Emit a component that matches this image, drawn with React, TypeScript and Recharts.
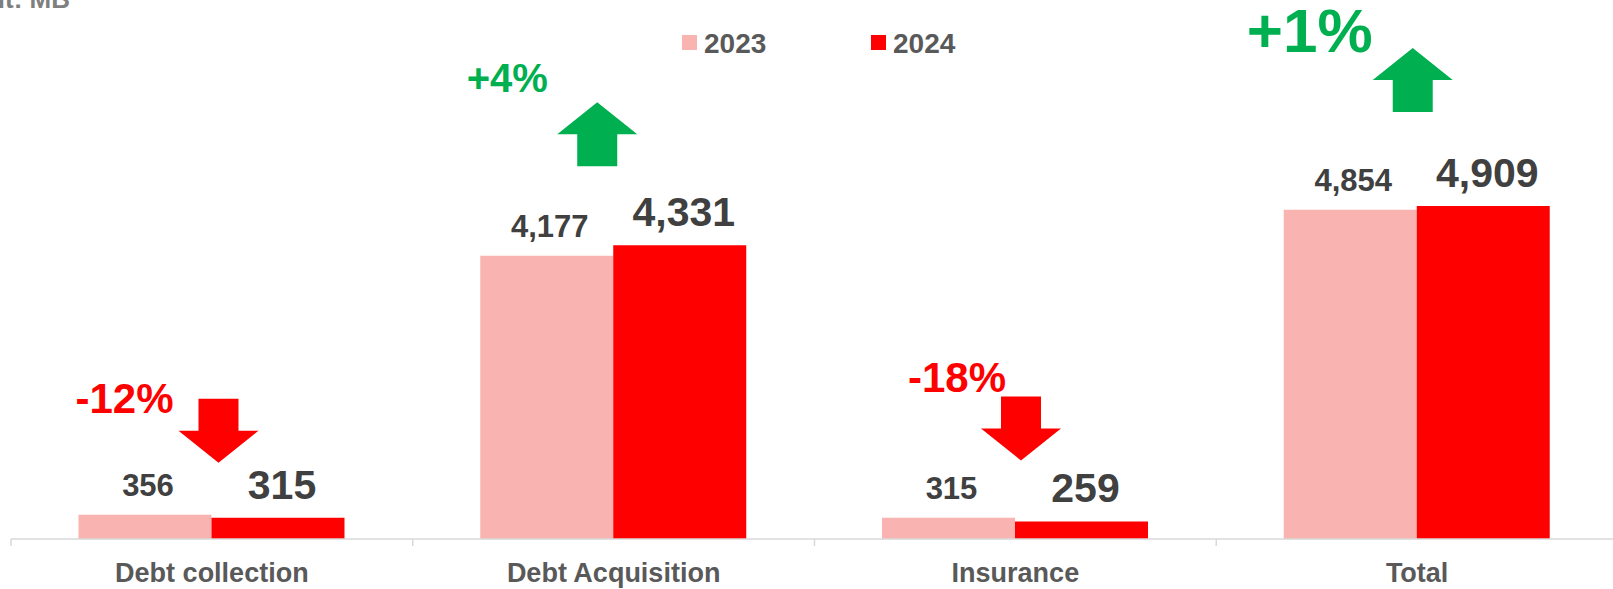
import React from 'react';
import { BarChart, Bar, XAxis, YAxis, LabelList, Legend } from 'recharts';

const categories = ['Debt collection', 'Debt Acquisition', 'Insurance', 'Total'];
const values2023 = [356, 4177, 315, 4854];
const values2024 = [315, 4331, 259, 4909];
const changeLabels = ['-12%', '+4%', '-18%', '+1%'];
const seriesNames = ['2023', '2024'];
const unitLabel = 'Unit: MB';

const data = categories.map((name, i) => ({
  name,
  y2023: values2023[i],
  y2024: values2024[i],
}));

const FONT = '"Liberation Sans", Arial, sans-serif';
const PINK = '#F9B4B1';
const RED = '#FF0000';
const GREEN = '#00B050';
const LABEL = '#404040';
const AXIS_TEXT = '#595959';
const AXIS_LINE = '#D9D9D9';

// hand placed arrows / % text, relative to the left edge and top of the 2024 bar
const marks = [
  { arrowDx: 7, arrowDy: -119, textDx: -87, textDy: -105, fontSize: 42 },
  { arrowDx: -16, arrowDy: -143, textDx: -106, textDy: -153, fontSize: 40 },
  { arrowDx: 6, arrowDy: -125, textDx: -58, textDy: -129, fontSize: 42 },
  { arrowDx: -4, arrowDy: -158, textDx: -107, textDy: -154, fontSize: 62 },
];

const fmt = (v: any) => Number(v).toLocaleString('en-US');

const ChangeMark = (props: any) => {
  const i = Number(props.index);
  const m = marks[i];
  if (!m) return null;
  const x = Number(props.x);
  const y = Number(props.y);
  const up = values2024[i] >= values2023[i];
  const color = up ? GREEN : RED;
  const cx = x + m.arrowDx;
  const y0 = y + m.arrowDy;
  const pts = up
    ? [[cx, y0], [cx + 40, y0 + 32], [cx + 20, y0 + 32], [cx + 20, y0 + 64], [cx - 20, y0 + 64], [cx - 20, y0 + 32], [cx - 40, y0 + 32]]
    : [[cx - 20, y0], [cx + 20, y0], [cx + 20, y0 + 32], [cx + 40, y0 + 32], [cx, y0 + 64], [cx - 40, y0 + 32], [cx - 20, y0 + 32]];
  return (
    <g>
      <polygon points={pts.map((p) => p.join(',')).join(' ')} fill={color} />
      <text
        x={x + m.textDx}
        y={y + m.textDy}
        textAnchor="middle"
        fill={color}
        fontFamily={FONT}
        fontWeight="bold"
        fontSize={m.fontSize}
      >
        {changeLabels[i]}
      </text>
    </g>
  );
};

const CategoryTick = (props: any) => {
  const { x, y, payload, index } = props;
  const half = payload && payload.offset ? payload.offset : 200.9;
  return (
    <g>
      <line x1={x - half} x2={x - half} y1={y} y2={y + 7} stroke={AXIS_LINE} strokeWidth={1.5} />
      {index === categories.length - 1 && (
        <line x1={x + half} x2={x + half} y1={y} y2={y + 7} stroke={AXIS_LINE} strokeWidth={1.5} />
      )}
      <text x={x} y={y + 43} textAnchor="middle" fill={AXIS_TEXT} fontFamily={FONT} fontWeight="bold" fontSize={27}>
        {payload.value}
      </text>
    </g>
  );
};

const renderLegend = () => (
  <svg width={1613} height={60} style={{ overflow: 'visible', display: 'block' }}>
    <text x={70} y={8} textAnchor="end" fill="#7F7F7F" fontFamily={FONT} fontWeight="bold" fontSize={26}>
      {unitLabel}
    </text>
    <rect x={682} y={35} width={15} height={15} fill={PINK} />
    <text x={704} y={52.5} fill={AXIS_TEXT} fontFamily={FONT} fontWeight="bold" fontSize={28}>
      {seriesNames[0]}
    </text>
    <rect x={871} y={35} width={15} height={15} fill={RED} />
    <text x={893} y={52.5} fill={AXIS_TEXT} fontFamily={FONT} fontWeight="bold" fontSize={28}>
      {seriesNames[1]}
    </text>
  </svg>
);

export default function App() {
  return (
    <div style={{ position: 'absolute', left: 0, top: 0, width: 1613, height: 589, overflow: 'hidden', background: '#fff' }}>
      <BarChart
        width={1618}
        height={589}
        data={data}
        margin={{ top: 10, right: 0, left: 11, bottom: 0 }}
        barCategoryGap="16.8%"
        barGap={0}
      >
        <XAxis
          dataKey="name"
          height={50}
          interval={0}
          tickLine={false}
          tickSize={0}
          tickMargin={0}
          axisLine={{ stroke: AXIS_LINE, strokeWidth: 1.5 }}
          tick={<CategoryTick />}
        />
        <YAxis hide domain={[0, 7800]} />
        <Legend
          layout="horizontal"
          verticalAlign="middle"
          align="center"
          wrapperStyle={{ top: 0, left: 0, width: 1613, height: 60 }}
          content={renderLegend}
        />
        <Bar dataKey="y2023" name={seriesNames[0]} fill={PINK} isAnimationActive={false}>
          <LabelList
            dataKey="y2023"
            position="top"
            offset={19}
            formatter={fmt}
            fill={LABEL}
            fontFamily={FONT}
            fontWeight="bold"
            fontSize={31}
            dx={3}
          />
        </Bar>
        <Bar dataKey="y2024" name={seriesNames[1]} fill={RED} isAnimationActive={false}>
          <LabelList
            dataKey="y2024"
            position="top"
            offset={19}
            formatter={fmt}
            fill={LABEL}
            fontFamily={FONT}
            fontWeight="bold"
            fontSize={41}
            dx={4}
          />
          <LabelList dataKey="y2024" content={<ChangeMark />} />
        </Bar>
      </BarChart>
    </div>
  );
}
